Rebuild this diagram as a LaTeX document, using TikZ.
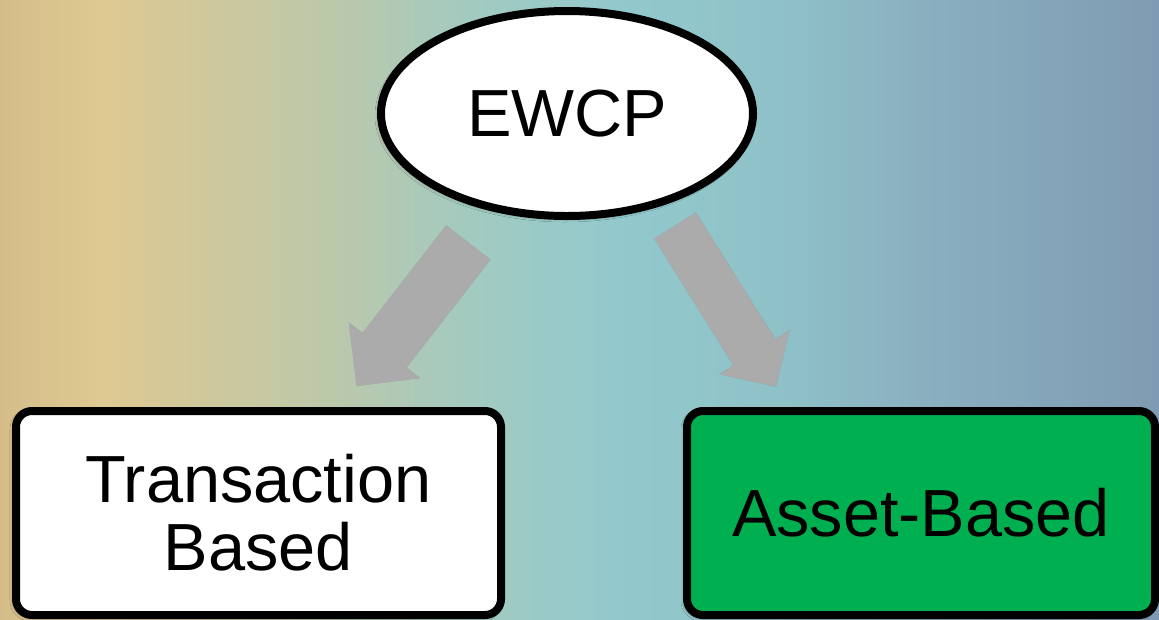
\documentclass[tikz,border=0pt]{standalone}
\usepackage{fontspec}
\setmainfont{Liberation Sans}
\usetikzlibrary{arrows.meta,shapes.geometric,shadows.blur}

\definecolor{bgA}{HTML}{D5BD89}
\definecolor{bgB}{HTML}{DEC992}
\definecolor{bgC}{HTML}{D0C89B}
\definecolor{bgD}{HTML}{BCC8AA}
\definecolor{bgE}{HTML}{A2CAC0}
\definecolor{bgF}{HTML}{92C9CD}
\definecolor{bgG}{HTML}{8FC2C8}
\definecolor{bgH}{HTML}{8AB0C0}
\definecolor{bgI}{HTML}{7F9BB3}
\definecolor{arrowgray}{RGB}{171,171,171}
\definecolor{assetgreen}{HTML}{00B050}

\pgfdeclarehorizontalshading{bgshade}{100bp}{color(0bp)=(bgA); color(25bp)=(bgA); color(29.3bp)=(bgB); color(33.6bp)=(bgC); color(39.2bp)=(bgD); color(45.3bp)=(bgE); color(51.7bp)=(bgF); color(58.2bp)=(bgG); color(64.7bp)=(bgH); color(75bp)=(bgI); color(100bp)=(bgI)}

\tikzset{every picture/.style={line width=0.75pt}}
\tikzset{
  softshadow/.style={blur shadow={shadow xshift=-1.5pt, shadow yshift=-1.5pt, shadow blur radius=3pt, shadow opacity=35}},
  bignode/.style={draw=black, line width=6pt, text=black, inner sep=0pt, align=center, font=\fontsize{50pt}{51pt}\selectfont, softshadow},
  topnode/.style={bignode, ellipse, fill=white, minimum width=279pt, minimum height=153.75pt},
  boxnode/.style={bignode, rectangle, rounded corners=12pt, minimum height=153pt},
  blockarrow/.style n args={3}{draw=arrowgray, line width=#1, -{Triangle[length=#3, width=#2, line width=0pt]}}
}

\begin{document}
\begin{tikzpicture}[x=0.75pt,y=0.75pt,yscale=-1,xscale=1]
\useasboundingbox (0,0) rectangle (1159,619);

%Background
\shade [shading=bgshade] (0,0) rectangle (1159,619);

%Shape: Ellipse
\node [topnode] (ewcp) at (567,113.5) {EWCP};

%Shape: Rounded boxes
\node [boxnode, fill=white, minimum width=363.75pt] (transaction) at (258.5,513) {Transaction\\Based};
\node [boxnode, fill=assetgreen, minimum width=351pt] (asset) at (921,513) {Asset-Based};

%Block arrows
\coordinate (tailL) at (468.3,242.5);
\coordinate (tipL) at (356.7,386);
\coordinate (tailR) at (675,225.5);
\coordinate (tipR) at (776,386.7);

\draw [blockarrow={42pt}{68pt}{34pt}, draw=black, opacity=0.2, shift={(2,3)}] (tailL) -- (tipL);
\draw [blockarrow={37pt}{62pt}{30.5pt}, draw=black, opacity=0.2, shift={(2,3)}] (tailR) -- (tipR);
\draw [blockarrow={42pt}{68pt}{34pt}] (tailL) -- (tipL);
\draw [blockarrow={37pt}{62pt}{30.5pt}] (tailR) -- (tipR);

\end{tikzpicture}
\end{document}
